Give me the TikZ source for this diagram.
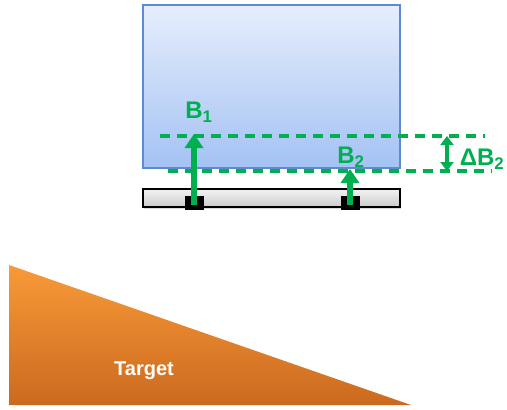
\documentclass[tikz,border=0pt]{standalone}
\usepackage{fontspec}
\setmainfont{Liberation Sans}
\usetikzlibrary{arrows.meta,positioning,shadows}

\definecolor{grn}{HTML}{00B050}
\definecolor{blocktop}{HTML}{E6EEFC}
\definecolor{blockbot}{HTML}{A4C2F4}
\definecolor{blockline}{HTML}{5B8BD3}
\definecolor{wedgetop}{HTML}{F89A38}
\definecolor{wedgebot}{HTML}{CB6A1F}

\begin{document}
\begin{tikzpicture}[x=1pt,y=-1pt,
		lbl/.style={text=grn, font=\bfseries\fontsize{24}{24}\selectfont, inner sep=0pt},
		level/.style={grn, line width=3.3pt, dash pattern=on 10pt off 7pt},
		push/.style={-{Triangle[length=14pt,width=18pt]}, grn, line width=6.5pt}]
		\useasboundingbox (0,0) rectangle (507,410);

		% blue block and the bar under it
		\shade[top color=blocktop, bottom color=blockbot, draw=blockline, line width=1.2pt]
			(143,5) rectangle (400,168);
		\shade[top color=gray!10, bottom color=gray!40, draw=black, line width=1.2pt,
			drop shadow={shadow xshift=1pt, shadow yshift=-2pt, opacity=0.3}]
			(143,189) rectangle (400,207);

		\path (194,205) coordinate (p1)
		      (350,205) coordinate (p2)
		      (194,134) coordinate (t1)
		      (350,169) coordinate (t2)
		      (160,136) coordinate (a1)
		      (485,136) coordinate (a2)
		      (168,171) coordinate (b1)
		      (492,171) coordinate (b2)
		      (447,136) coordinate (d1)
		      (447,171) coordinate (d2);

		\fill[black] (185,196) rectangle (204,210);
		\fill[black] (341,196) rectangle (360,210);

		\draw[level] (a1) -- (a2);
		\draw[level] (b1) -- (b2);
		\draw[push] (p1) -- (t1);
		\draw[push] (p2) -- (t2);
		\draw[{Triangle[length=9pt,width=13pt]}-{Triangle[length=9pt,width=13pt]}, grn, line width=3.3pt] (d1) -- (d2);

		\path (199,112) node[lbl] (b1lbl) {B\textsubscript{1}}
		      (351,157) node[lbl] (b2lbl) {B\textsubscript{2}}
		      (482,159) node[lbl] (dlbl)  {ΔB\textsubscript{2}};

		% target wedge
		\shade[top color=wedgetop, bottom color=wedgebot]
			(9,265) -- (9,405) -- (411,405) -- cycle;
		\node[text=white, font=\bfseries\fontsize{20}{20}\selectfont] (tgt) at (144,371) {Target};
	\end{tikzpicture}
\end{document}
